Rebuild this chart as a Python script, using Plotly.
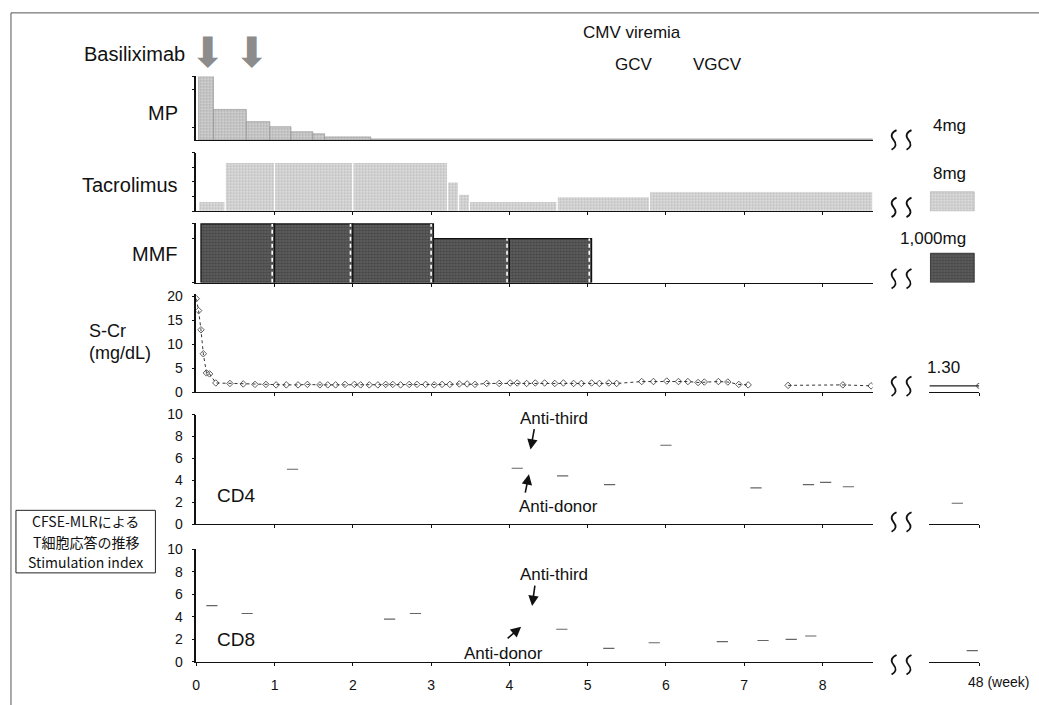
import plotly.graph_objects as go

W, H = 1039, 705

# ---------------- data ----------------
week_ticks = [0, 1, 2, 3, 4, 5, 6, 7, 8]
week_tick_text = ["0", "1", "2", "3", "4", "5", "6", "7", "8"]
basiliximab_weeks = [0.14, 0.71]

# Methylprednisolone (relative daily dose, mg)
mp_start = [0.03, 0.22, 0.64, 0.94, 1.21, 1.49, 1.64, 2.23]
mp_end = [0.22, 0.64, 0.94, 1.21, 1.49, 1.64, 2.23, 8.64]
mp_dose = [250, 120, 72, 52, 32, 24, 12, 4]

# Tacrolimus (mg)
tac_start = [0.03, 0.37, 1.00, 2.00, 3.21, 3.35, 3.49, 4.61, 5.79]
tac_end = [0.37, 1.00, 2.00, 3.21, 3.35, 3.49, 4.61, 5.79, 8.64]
tac_dose = [4, 20, 20, 20, 12, 7, 4, 6, 8]
tac_late_start = [46.04]
tac_late_end = [47.80]
tac_late_dose = [8]

# MMF (mg)
mmf_start = [0.06, 1.00, 2.00, 3.03, 4.00]
mmf_end = [1.00, 2.00, 3.03, 4.00, 5.05]
mmf_dose = [2000, 2000, 2000, 1500, 1500]
mmf_late_start = [46.04]
mmf_late_end = [47.80]
mmf_late_dose = [1000]

# Serum creatinine (mg/dL)
scr_weeks = [0.00, 0.03, 0.06, 0.09, 0.13, 0.17, 0.25, 0.43, 0.60, 0.75, 0.89,
             1.02, 1.15, 1.30, 1.42, 1.58, 1.68, 1.78, 1.90, 2.02, 2.10, 2.21,
             2.32, 2.42, 2.51, 2.61, 2.72, 2.82, 2.93, 3.04, 3.14, 3.24, 3.36,
             3.46, 3.56, 3.71, 3.87, 4.01, 4.10, 4.22, 4.33, 4.45, 4.58, 4.69,
             4.82, 4.92, 5.05, 5.15, 5.27, 5.37, 5.69, 5.84, 6.01, 6.16, 6.28,
             6.41, 6.49, 6.67, 6.79, 6.93, 7.05, None, 7.56, 8.26, 8.62]
scr_vals = [19.5, 17.0, 13.0, 8.0, 4.0, 3.8, 1.9, 1.8, 1.7, 1.6, 1.6,
            1.5, 1.5, 1.5, 1.6, 1.5, 1.5, 1.5, 1.6, 1.6, 1.5, 1.5,
            1.5, 1.6, 1.6, 1.5, 1.6, 1.6, 1.6, 1.5, 1.6, 1.6, 1.7,
            1.7, 1.6, 1.8, 1.8, 1.9, 1.9, 1.8, 1.9, 1.9, 1.8, 1.9,
            1.8, 1.8, 1.9, 1.8, 1.9, 1.8, 2.2, 2.2, 2.3, 2.2, 2.2,
            2.0, 2.1, 2.2, 2.1, 1.6, 1.5, None, 1.4, 1.5, 1.3]
scr_late_weeks = [46.0, 48.0]
scr_late_vals = [1.30, 1.30]
assert len(scr_weeks) == len(scr_vals)

# CFSE-MLR stimulation index (faded traces in the scan)
cd4_weeks = [1.23, 4.10, 4.68, 5.28, 6.00, 7.15, 7.82, 8.04, 8.33]
cd4_si = [5.0, 5.1, 4.4, 3.6, 7.2, 3.3, 3.6, 3.8, 3.4]
cd4_late_weeks = [47.12]
cd4_late_si = [1.9]
cd8_weeks = [0.20, 0.65, 2.47, 2.80, 4.67, 5.27, 5.85, 6.72, 7.24, 7.60, 7.85]
cd8_si = [5.0, 4.3, 3.8, 4.3, 2.9, 1.2, 1.7, 1.8, 1.9, 2.0, 2.3]
cd8_late_weeks = [47.72]
cd8_late_si = [1.0]


# ---------------- helpers ----------------
def xf(px):
    return px / W


def yf(py):
    return 1 - py / H


FONT = "Liberation Sans, Arial, sans-serif"
CJK = "Noto Sans CJK JP"
LBL = 20   # main label size
SML = 17   # secondary labels
TCK = 14   # tick labels
fig = go.Figure()


def add_bars(start, end, dose, xa, ya, bg, fg, lc, lw):
    fig.add_trace(go.Bar(
        x=[(s + e) / 2 for s, e in zip(start, end)],
        y=dose,
        width=[e - s for s, e in zip(start, end)],
        xaxis=xa, yaxis=ya,
        marker=dict(color=bg,
                    pattern=dict(shape=".", fgcolor=fg, bgcolor=bg, size=3, solidity=0.4),
                    line=dict(color=lc, width=lw)),
        showlegend=False, hoverinfo="skip"))


# MP
add_bars(mp_start, mp_end, mp_dose, "x", "y", "#d2d2d2", "#808080", "#8a8a8a", 0.6)
# Tacrolimus
add_bars(tac_start, tac_end, tac_dose, "x2", "y2", "#dedede", "#8e8e8e", "white", 1.2)
add_bars(tac_late_start, tac_late_end, tac_late_dose, "x7", "y2", "#dedede", "#8e8e8e", "#aaaaaa", 0.6)
# MMF
add_bars(mmf_start, mmf_end, mmf_dose, "x3", "y3", "#5c5c5c", "#2a2a2a", "#111111", 1.2)
add_bars(mmf_late_start, mmf_late_end, mmf_late_dose, "x8", "y3", "#5c5c5c", "#2a2a2a", "#222222", 0.8)

# white dashed separators inside the MMF block (at each segment end)
sep_x, sep_y = [], []
for e, d in zip(mmf_end, mmf_dose):
    sep_x += [e - 0.03, e - 0.03, None]
    sep_y += [0, d, None]
fig.add_trace(go.Scatter(x=sep_x, y=sep_y, xaxis="x3", yaxis="y3", mode="lines",
                         line=dict(color="white", width=1.6, dash="4px,3px"),
                         showlegend=False, hoverinfo="skip"))

# S-Cr
fig.add_trace(go.Scatter(x=scr_weeks, y=scr_vals, xaxis="x4", yaxis="y4",
                         mode="lines+markers", connectgaps=False,
                         line=dict(color="#333333", width=1, dash="dot"),
                         marker=dict(symbol="diamond-open", size=5, color="#333333",
                                     line=dict(width=0.8)),
                         showlegend=False, hoverinfo="skip"))
fig.add_trace(go.Scatter(x=scr_late_weeks, y=scr_late_vals, xaxis="x9", yaxis="y4",
                         mode="lines+markers",
                         line=dict(color="#222222", width=1.2),
                         marker=dict(symbol="circle-open", size=[0, 5], color="#222222"),
                         showlegend=False, hoverinfo="skip"))

# CD4 / CD8 faded fragments
for xs, ys, xa, ya in [(cd4_weeks, cd4_si, "x5", "y5"), (cd4_late_weeks, cd4_late_si, "x10", "y5"),
                       (cd8_weeks, cd8_si, "x6", "y6"), (cd8_late_weeks, cd8_late_si, "x11", "y6")]:
    fig.add_trace(go.Scatter(x=xs, y=ys, xaxis=xa, yaxis=ya, mode="markers",
                             marker=dict(symbol="line-ew", size=8, color="#666666",
                                         line=dict(color="#666666", width=1.1)),
                             showlegend=False, hoverinfo="skip"))

# ---------------- axes ----------------
main_dom = [xf(193), xf(872)]
right_dom = [xf(929), xf(979)]
# (bottom px, top px, range, tickvals, show labels)
panels = [
    (135, 70, [0, 250], [50, 200, 250], False),
    (208, 148, [0, 24], [0, 6, 12, 18, 24], False),
    (281, 220, [0, 2030], [0, 1500, 2030], False),
    (393, 293, [0, 20.4], [0, 5, 10, 15, 20], True),
    (528, 416, [0, 10], [0, 2, 4, 6, 8, 10], True),
    (669, 554, [0, 10], [0, 2, 4, 6, 8, 10], True),
]
layout_axes = {}
for i, (pb, pt, rng, tv, show) in enumerate(panels, start=1):
    sfx = "" if i == 1 else str(i)
    is_bottom = i == 6
    layout_axes["xaxis" + sfx] = dict(
        domain=main_dom, range=[0, 8.64], anchor="y" + sfx,
        showline=True, linecolor="#111", linewidth=1.2,
        ticks="outside" if i >= 2 else "", ticklen=3, tickcolor="#111",
        tickvals=week_ticks if is_bottom else week_ticks[1:],
        ticktext=week_tick_text if is_bottom else None,
        showticklabels=is_bottom, ticklabelstandoff=7,
        tickfont=dict(family=FONT, size=TCK, color="#111"),
        showgrid=False, zeroline=False, fixedrange=True)
    layout_axes["yaxis" + sfx] = dict(
        domain=[yf(pb), yf(pt)], range=rng, anchor="x" + sfx,
        showline=True, linecolor="#111", linewidth=1.5,
        ticks="outside", ticklen=3, tickcolor="#111", tickvals=tv,
        showticklabels=show, ticklabelstandoff=6,
        tickfont=dict(family=FONT, size=TCK, color="#111"),
        showgrid=False, zeroline=False, fixedrange=True)

# right-hand (48 week) segments
for n, ya, line in [(7, "y2", False), (8, "y3", False), (9, "y4", True),
                    (10, "y5", True), (11, "y6", True)]:
    layout_axes["xaxis" + str(n)] = dict(
        domain=right_dom, range=[46, 48], anchor=ya,
        showline=line, linecolor="#111", linewidth=1.2,
        ticks="outside" if line else "", ticklen=3, tickcolor="#111",
        tickvals=[48], showticklabels=False,
        showgrid=False, zeroline=False, fixedrange=True)

fig.update_layout(**layout_axes)

# ---------------- annotations ----------------
ann = []


def txt(text, px, py, size=LBL, xanchor="center", family=FONT, **kw):
    ann.append(dict(text=text, x=xf(px), y=yf(py), xref="paper", yref="paper",
                    xanchor=xanchor, yanchor="middle", showarrow=False,
                    font=dict(family=family, size=size, color="#111"), **kw))


txt("Basiliximab", 184, 47, xanchor="right")
txt("MP", 177, 107, xanchor="right")
txt("Tacrolimus", 177, 181, xanchor="right")
txt("MMF", 177, 252, xanchor="right")
txt("S-Cr", 104, 331, size=18, borderpad=0)
txt("(mg/dL)", 116, 353, size=18, borderpad=0)
txt("CD4", 233, 499, size=19)
txt("CD8", 233, 646, size=19)
txt("CMV viremia", 630, 25, size=SML)
txt("GCV", 632, 58, size=SML)
txt("VGCV", 716, 58, size=SML)
txt("4mg", 968, 120, size=SML, xanchor="right")
txt("8mg", 968, 169, size=SML, xanchor="right")
txt("1,000mg", 968, 236, size=SML, xanchor="right")
txt("1.30", 962, 368, size=SML, xanchor="right")
txt("Anti-third", 552, 420, size=SML)
txt("Anti-donor", 557, 510, size=SML)
txt("Anti-third", 552, 580, size=SML)
txt("Anti-donor", 501, 660, size=SML)
txt("48 (week)", 966, 690, size=TCK, xanchor="left")

# CFSE-MLR box (three lines + frame)
txt("CFSE-MLRによる", 82, 525, size=14, family=CJK, borderpad=0)
txt("T細胞応答の推移", 82, 546, size=14, family=CJK, borderpad=0)
txt("Stimulation index", 82, 567, size=14, family=CJK, borderpad=0)

# basiliximab arrows
for wk in basiliximab_weeks:
    ann.append(dict(text="⬇", x=wk, y=yf(46), xref="x", yref="paper",
                    xanchor="center", yanchor="middle", showarrow=False,
                    font=dict(family="DejaVu Sans", size=42, color="#8c8c8c")))

# Anti-third / Anti-donor arrows (tips in data coords)
arrows = [("x5", "y5", 4.27, 6.8, 4, -22), ("x5", "y5", 4.25, 4.55, -4, 20),
          ("x6", "y6", 4.29, 4.96, 3, -22), ("x6", "y6", 4.15, 3.13, -15, 13)]
for xa, ya, x, y, ax, ay in arrows:
    ann.append(dict(text="", x=x, y=y, xref=xa, yref=ya, ax=ax, ay=ay,
                    showarrow=True, arrowhead=2, arrowsize=1.3, arrowwidth=1.6,
                    arrowcolor="#111"))


# axis-break squiggles (decorative shapes in paper coordinates)
def squiggle(cx, cy):
    pts = [(cx + 3, cy - 10), (cx - 5, cy - 6), (cx, cy), (cx + 5, cy + 6), (cx - 2, cy + 10)]
    p = [(xf(a), yf(b)) for a, b in pts]
    path = (f"M {p[0][0]},{p[0][1]} Q {p[1][0]},{p[1][1]} {p[2][0]},{p[2][1]} "
            f"Q {p[3][0]},{p[3][1]} {p[4][0]},{p[4][1]}")
    return dict(type="path", xref="paper", yref="paper", path=path,
                line=dict(color="#111", width=1.8))


shapes = [dict(type="rect", xref="paper", yref="paper",
               x0=xf(7), x1=xf(1050), y0=yf(715), y1=yf(5),
               line=dict(color="#555", width=1), layer="below"),
          dict(type="rect", xref="paper", yref="paper",
               x0=xf(12), x1=xf(152), y0=yf(578), y1=yf(514),
               line=dict(color="#222", width=1))]
for cy in [135, 204, 277, 387, 526, 672]:
    shapes.append(squiggle(893, cy))
    shapes.append(squiggle(908, cy))

fig.update_layout(
    width=W, height=H, margin=dict(l=0, r=0, t=0, b=0),
    paper_bgcolor="white", plot_bgcolor="white", barmode="overlay",
    showlegend=False, annotations=ann, shapes=shapes)

fig.write_html("out.html")
